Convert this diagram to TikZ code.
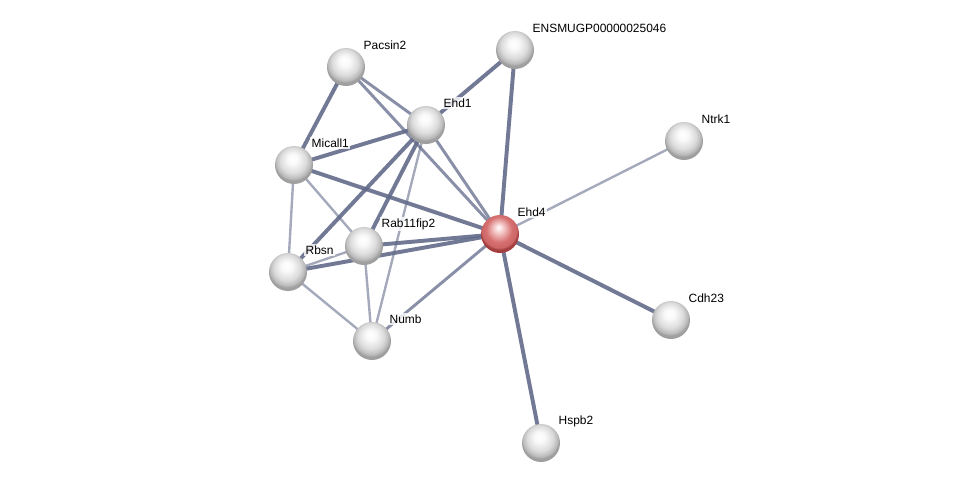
\documentclass[tikz,border=0pt]{standalone}
\usepackage{fontspec}
\setmainfont{Liberation Sans}
\usetikzlibrary{backgrounds}

\definecolor{linkcol}{RGB}{98,106,138}
\definecolor{redhi}{RGB}{246,205,205}
\definecolor{redmid}{RGB}{214,112,112}
\definecolor{redrim}{RGB}{165,62,62}
\pgfdeclareradialshading{greyball}{\pgfpoint{-2bp}{9bp}}{color(0bp)=(white); color(7bp)=(white!95!gray); color(17bp)=(gray!28); color(23bp)=(gray!55); color(25bp)=(gray!75); color(50bp)=(gray!75)}
\pgfdeclareradialshading{redball}{\pgfpoint{-2bp}{9bp}}{color(0bp)=(white); color(6bp)=(redhi); color(17bp)=(redmid); color(23bp)=(redmid!80!redrim); color(25bp)=(redrim); color(50bp)=(redrim)}

\tikzset{
  prot/.style={circle, minimum size=0.95cm, inner sep=0pt, shading=greyball},
  query/.style={prot, shading=redball},
  lbl/.style={anchor=west, inner sep=1pt, fill=white, fill opacity=0.8, text opacity=1,
    font=\fontsize{8.5}{10}\selectfont},
  strong/.style={draw=linkcol, line width=2.8pt, opacity=0.9},
  medium/.style={draw=linkcol, line width=2.1pt, opacity=0.75},
  weak/.style={draw=linkcol, line width=1.7pt, opacity=0.58}
}

\begin{document}
\begin{tikzpicture}[x=0.025cm, y=-0.025cm]
\useasboundingbox (0,0) rectangle (976,488);

% proteins
\node[prot] (Pacsin2) at (346,67) {};
\node[prot] (ENSMUGP) at (515,50) {};
\node[prot] (Ehd1) at (426,125) {};
\node[prot] (Ntrk1) at (684,141) {};
\node[prot] (Micall1) at (294,165) {};
\node[query] (Ehd4) at (500,234) {};
\node[prot] (Rab11fip2) at (364,246) {};
\node[prot] (Rbsn) at (288,272) {};
\node[prot] (Numb) at (372,341) {};
\node[prot] (Cdh23) at (671,320) {};
\node[prot] (Hspb2) at (541,443) {};

% names
\node[lbl] (tPacsin2) at ([shift={(16,-22)}]Pacsin2.center) {Pacsin2};
\node[lbl] (tENSMUGP) at ([shift={(16,-22)}]ENSMUGP.center) {ENSMUGP00000025046};
\node[lbl] (tEhd1) at ([shift={(16,-22)}]Ehd1.center) {Ehd1};
\node[lbl] (tNtrk1) at ([shift={(16,-22)}]Ntrk1.center) {Ntrk1};
\node[lbl] (tMicall1) at ([shift={(16,-22)}]Micall1.center) {Micall1};
\node[lbl] (tEhd4) at ([shift={(16,-22)}]Ehd4.center) {Ehd4};
\node[lbl] (tRab11fip2) at ([shift={(16,-22)}]Rab11fip2.center) {Rab11fip2};
\node[lbl] (tRbsn) at ([shift={(16,-22)}]Rbsn.center) {Rbsn};
\node[lbl] (tNumb) at ([shift={(16,-22)}]Numb.center) {Numb};
\node[lbl] (tCdh23) at ([shift={(16,-22)}]Cdh23.center) {Cdh23};
\node[lbl] (tHspb2) at ([shift={(16,-22)}]Hspb2.center) {Hspb2};

% links
\begin{scope}[on background layer]
\draw[strong] (Pacsin2.center) -- (Micall1.center);
\draw[medium] (Pacsin2.center) -- (Ehd1.center);
\draw[medium] (Pacsin2.center) -- (Ehd4.center);
\draw[strong] (ENSMUGP.center) -- (Ehd1.center);
\draw[strong] (ENSMUGP.center) -- (Ehd4.center);
\draw[strong] (Ehd1.center) -- (Micall1.center);
\draw[medium] (Ehd1.center) -- (Ehd4.center);
\draw[strong] (Ehd1.center) -- (Rbsn.center);
\draw[strong] (Ehd1.center) -- (Rab11fip2.center);
\draw[weak] (Ehd1.center) -- (Numb.center);
\draw[strong] (Micall1.center) -- (Ehd4.center);
\draw[weak] (Micall1.center) -- (Rbsn.center);
\draw[weak] (Micall1.center) -- (Rab11fip2.center);
\draw[strong] (Rab11fip2.center) -- (Ehd4.center);
\draw[strong] (Rbsn.center) -- (Ehd4.center);
\draw[weak] (Rbsn.center) -- (Rab11fip2.center);
\draw[weak] (Rbsn.center) -- (Numb.center);
\draw[weak] (Rab11fip2.center) -- (Numb.center);
\draw[medium] (Numb.center) -- (Ehd4.center);
\draw[weak] (Ehd4.center) -- (Ntrk1.center);
\draw[strong] (Ehd4.center) -- (Cdh23.center);
\draw[strong] (Ehd4.center) -- (Hspb2.center);
\end{scope}
\end{tikzpicture}
\end{document}
